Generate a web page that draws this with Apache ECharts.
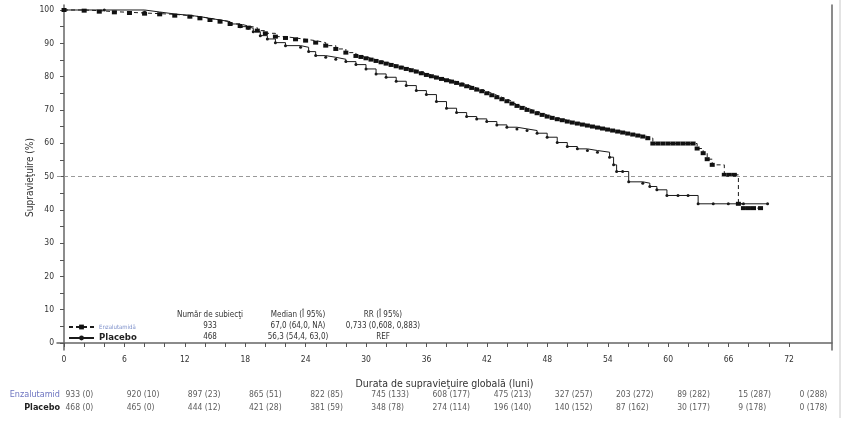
<!DOCTYPE html>
<html>
<head>
<meta charset="utf-8">
<script src="https://cdn.jsdelivr.net/npm/echarts@6/dist/echarts.min.js"></script>
<style>
  html, body { margin: 0; padding: 0; background: #fff; }
  #chart { width: 847px; height: 427px; }
</style>
</head>
<body>
<div id="chart"></div>
<script>
// Kaplan-Meier curves, [luni, supravietuire %]
var enzaKM = [
  [0, 100], [2, 99.8], [3.5, 99.5], [5, 99.3], [6.5, 99.1], [8, 98.9], [9.5, 98.7], [11, 98.3],
  [12.5, 98], [13.5, 97.5], [14.5, 97], [15.5, 96.5], [16.5, 95.8], [17.5, 95.2], [18.3, 94.7],
  [19.2, 93.8], [20, 93], [21, 92], [22, 91.6], [23, 91.2], [24, 90.8], [25, 90.2], [26, 89.3],
  [27, 88.3], [28, 87.2], [29, 86.2], [29.5, 85.9], [30, 85.5], [30.5, 85.1], [31, 84.7],
  [31.5, 84.3], [32, 83.9], [32.5, 83.5], [33, 83.1], [33.5, 82.7], [34, 82.3], [34.5, 81.9],
  [35, 81.5], [35.5, 81], [36, 80.5], [36.5, 80.1], [37, 79.7], [37.5, 79.3], [38, 78.9],
  [38.5, 78.5], [39, 78.1], [39.5, 77.6], [40, 77.1], [40.5, 76.6], [41, 76.1], [41.5, 75.6],
  [42, 75], [42.5, 74.4], [43, 73.8], [43.5, 73.2], [44, 72.6], [44.5, 71.9], [45, 71.2],
  [45.5, 70.6], [46, 70], [46.5, 69.5], [47, 69], [47.5, 68.5], [48, 68], [48.5, 67.6],
  [49, 67.2], [49.5, 66.9], [50, 66.5], [50.5, 66.2], [51, 65.9], [51.5, 65.6], [52, 65.3],
  [52.5, 65], [53, 64.7], [53.5, 64.4], [54, 64.1], [54.5, 63.8], [55, 63.5], [55.5, 63.2],
  [56, 62.9], [56.5, 62.6], [57, 62.3], [57.5, 62], [58, 61.5], [58.5, 59.9], [59, 59.9],
  [59.5, 59.9], [60, 59.9], [60.5, 59.9], [61, 59.9], [61.5, 59.9], [62, 59.9], [62.5, 59.9],
  [62.9, 58.4], [63.5, 57], [63.9, 55.2], [64.4, 53.5], [65.6, 50.5], [66.1, 50.5], [66.6, 50.5],
  [67, 41.8], [67.5, 40.5], [68, 40.5], [68.5, 40.5], [69.2, 40.5]
];
var placeboKM = [
  [0, 100], [4, 100], [8, 99.4], [9.5, 98.8], [11, 98.4], [12.5, 98], [13.5, 97.5], [14.5, 97],
  [15.5, 96.5], [16.5, 95.8], [17.5, 95], [18.3, 94.5], [18.8, 93.5], [19.5, 92.3], [20.2, 91.3],
  [21, 90.2], [22, 89.3], [23.5, 88.8], [24.3, 87.5], [25, 86.3], [26, 85.8], [27, 85.2],
  [28, 84.5], [29, 83.6], [30, 82.3], [31, 80.8], [32, 79.8], [33, 78.6], [34, 77.3], [35, 75.8],
  [36, 74.6], [37, 72.5], [38, 70.5], [39, 69.2], [40, 68], [41, 67.3], [42, 66.5], [43, 65.5],
  [44, 64.8], [45, 64.3], [46, 63.8], [47, 63], [48, 61.8], [49, 60.2], [50, 59], [51, 58.3],
  [52, 57.8], [53, 57.3], [54.2, 55.8], [54.6, 53.5], [54.9, 51.5], [55.5, 51.5], [56.1, 48.4],
  [57.5, 48], [58.2, 47], [58.9, 46], [59.9, 44.3], [61, 44.3], [62, 44.3], [63, 41.8],
  [64.5, 41.8], [66, 41.8], [67.5, 41.8], [69.9, 41.8]
];

// tabelul cu numarul de subiecti la risc
var riskMonths = [0, 6, 12, 18, 24, 30, 36, 42, 48, 54, 60, 66, 72];
var riskGroups = ['Enzalutamid', 'Placebo'];
var enzaRisk = ['933 (0)', '920 (10)', '897 (23)', '865 (51)', '822 (85)', '745 (133)', '608 (177)',
  '475 (213)', '327 (257)', '203 (272)', '89 (282)', '15 (287)', '0 (288)'];
var placeboRisk = ['468 (0)', '465 (0)', '444 (12)', '421 (28)', '381 (59)', '348 (78)', '274 (114)',
  '196 (140)', '140 (152)', '87 (162)', '30 (177)', '9 (178)', '0 (178)'];

// tabelul din grafic
var statHeader = ['Număr de subiecţi', 'Median (Î 95%)', 'RR (Î 95%)'];
var statEnza = ['933', '67,0 (64,0, NA)', '0,733 (0,608, 0,883)'];
var statPlacebo = ['468', '56,3 (54,4, 63,0)', 'REF'];

var FONT = "'Liberation Sans Narrow', 'DejaVu Sans Condensed', sans-serif";
var myChart = echarts.init(document.getElementById('chart'));

var statText = [];
var colX = [210, 298, 383];
var rowY = [315, 326, 337];
[statHeader, statEnza, statPlacebo].forEach(function (row, r) {
  row.forEach(function (txt, c) {
    statText.push({
      type: 'text',
      x: colX[c], y: rowY[r],
      style: {
        text: txt, x: 0, y: 0, align: 'center', verticalAlign: 'middle',
        font: '8px ' + FONT, fill: '#333'
      },
      silent: true
    });
  });
});

var riskData = function (arr, group) {
  return riskMonths.map(function (m, i) {
    return { value: [m, group], label: { formatter: arr[i] } };
  });
};

var option = {
  animation: false,
  textStyle: { fontFamily: FONT },
  grid: [
    { left: 57, right: 15, top: 5, bottom: 77 },   // cadru + curbe
    { left: 64, right: 58, top: 10, bottom: 84 },  // diviziuni
    { left: 65, right: 48, top: 388, height: 26 }  // tabel la risc
  ],
  legend: {
    data: ['Enzalutamidă', 'Placebo'],
    orient: 'vertical',
    left: 63, top: 319,
    itemWidth: 25, itemHeight: 6, itemGap: 3,
    selectedMode: false,
    formatter: function (name) {
      return name === 'Placebo' ? '{b|' + name + '}' : '{a|' + name + '}';
    },
    textStyle: {
      rich: {
        a: { fontSize: 6, color: '#7c8fca', fontFamily: FONT },
        b: { fontSize: 9.5, fontWeight: 'bold', color: '#222', fontFamily: FONT }
      }
    }
  },
  xAxis: [
    {
      gridIndex: 0, type: 'value', min: -0.7, max: 76.3,
      name: 'Durata de supravieţuire globală (luni)', nameLocation: 'middle', nameGap: 29,
      nameTextStyle: { fontSize: 10.5, color: '#333', fontFamily: FONT },
      axisLine: { lineStyle: { color: '#666', width: 1.5 } },
      axisTick: { show: false }, axisLabel: { show: false }, splitLine: { show: false }
    },
    {
      gridIndex: 1, type: 'value', min: 0, max: 72, interval: 2, offset: 7,
      axisLine: { show: false },
      axisTick: { length: 4, lineStyle: { color: '#555' } },
      axisLabel: {
        margin: 5, fontSize: 8.5, color: '#333', fontFamily: FONT,
        formatter: function (v) { return v % 6 === 0 ? v : ''; }
      },
      splitLine: { show: false }
    },
    { gridIndex: 2, type: 'value', min: 0, max: 72, show: false }
  ],
  yAxis: [
    {
      gridIndex: 0, type: 'value', min: -2.1, max: 101.5,
      name: 'Supravieţuire (%)', nameLocation: 'middle', nameGap: 22, nameRotate: 90,
      nameTextStyle: { fontSize: 10, color: '#333', fontFamily: FONT },
      axisLine: { show: true, lineStyle: { color: '#666', width: 1.5 } },
      axisTick: { show: false }, axisLabel: { show: false }, splitLine: { show: false }
    },
    {
      gridIndex: 0, type: 'value', min: -2.1, max: 101.5, position: 'right',
      axisLine: { show: true, lineStyle: { color: '#666', width: 1.5 } },
      axisTick: { show: false }, axisLabel: { show: false }, splitLine: { show: false }
    },
    {
      gridIndex: 1, type: 'value', min: 0, max: 100, interval: 5, offset: 7,
      axisLine: { show: false },
      axisTick: { show: true, length: 4, lineStyle: { color: '#555' } },
      axisLabel: {
        margin: 3, fontSize: 8.5, color: '#333', fontFamily: FONT,
        formatter: function (v) { return v % 10 === 0 ? v : ''; }
      },
      splitLine: { show: false }
    },
    {
      gridIndex: 2, type: 'category', data: riskGroups, inverse: true,
      axisLine: { show: false }, axisTick: { show: false },
      axisLabel: {
        margin: 5, interval: 0,
        formatter: function (v) { return v === 'Placebo' ? '{b|' + v + '}' : '{a|' + v + '}'; },
        rich: {
          a: { fontSize: 9, color: '#6d74c0', fontFamily: FONT },
          b: { fontSize: 9, fontWeight: 'bold', color: '#222', fontFamily: FONT }
        }
      }
    }
  ],
  series: [
    {
      name: 'Enzalutamidă', type: 'line', step: 'end',
      xAxisIndex: 0, yAxisIndex: 0,
      data: enzaKM,
      symbol: 'rect', symbolSize: [5, 4], showAllSymbol: true,
      itemStyle: { color: '#111' },
      lineStyle: { color: '#1a1a1a', width: 1, type: [4, 3] },
      z: 4
    },
    {
      name: 'Placebo', type: 'line', step: 'end',
      xAxisIndex: 0, yAxisIndex: 0,
      data: placeboKM,
      symbol: 'circle', symbolSize: 3, showAllSymbol: true,
      itemStyle: { color: '#1a1a1a' },
      lineStyle: { color: '#1a1a1a', width: 1 },
      markLine: {
        silent: true, symbol: ['none', 'none'], label: { show: false },
        lineStyle: { color: '#999', width: 1, type: [4, 3] },
        data: [{ yAxis: 50 }]
      },
      z: 3
    },
    {
      type: 'scatter', xAxisIndex: 2, yAxisIndex: 3,
      symbolSize: 1, itemStyle: { color: 'rgba(0,0,0,0)' },
      label: { show: true, position: 'right', distance: 0, fontSize: 8.5, color: '#333', fontFamily: FONT },
      data: riskData(enzaRisk, 'Enzalutamid').concat(riskData(placeboRisk, 'Placebo'))
    }
  ],
  graphic: statText.concat([
    {
      type: 'line', silent: true,
      shape: { x1: 840, y1: 0, x2: 840, y2: 418 },
      style: { stroke: '#c8c8c8', lineWidth: 1 }
    }
  ])
};

myChart.setOption(option);
</script>
</body>
</html>
